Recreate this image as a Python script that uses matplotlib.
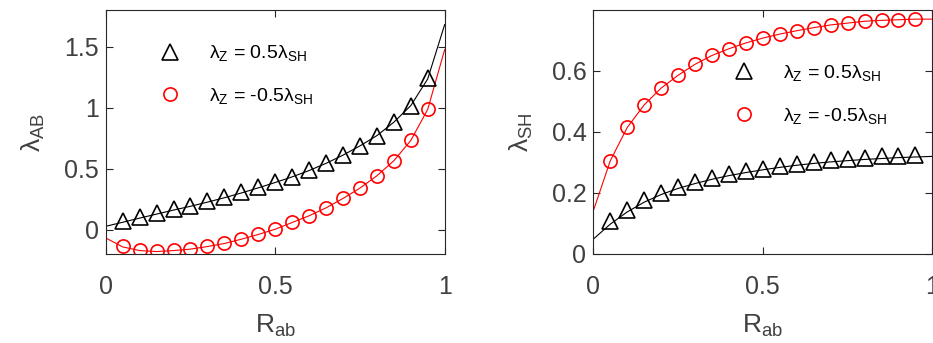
import numpy as np
import matplotlib
matplotlib.use("Agg")
import matplotlib.pyplot as plt
from matplotlib.ticker import FuncFormatter

plt.rcParams['font.family'] = ['Liberation Sans', 'DejaVu Sans']
plt.rcParams['mathtext.fontset'] = 'custom'
plt.rcParams['mathtext.rm'] = 'Liberation Sans'
plt.rcParams['mathtext.it'] = 'Liberation Sans:italic'
plt.rcParams['mathtext.default'] = 'regular'

# --- данные ---
r_pts = [0.05, 0.10, 0.15, 0.20, 0.25, 0.30, 0.35, 0.40, 0.45, 0.50,
         0.55, 0.60, 0.65, 0.70, 0.75, 0.80, 0.85, 0.90, 0.95]
r_line = [0.0] + r_pts + [1.0]

ab_pos = [0.074, 0.104, 0.137, 0.170, 0.197, 0.232, 0.268, 0.306, 0.347, 0.390,
          0.434, 0.486, 0.546, 0.612, 0.689, 0.770, 0.880, 1.016, 1.240]
ab_neg = [-0.137, -0.169, -0.178, -0.169, -0.158, -0.137, -0.112, -0.077, -0.038, 0.005,
          0.060, 0.115, 0.180, 0.257, 0.342, 0.443, 0.566, 0.732, 0.989]
ab_pos_line = [0.027, 0.060, 0.094, 0.127, 0.160, 0.191, 0.225, 0.261, 0.300, 0.342, 0.386,
               0.432, 0.484, 0.543, 0.610, 0.686, 0.770, 0.880, 1.016, 1.235, 1.680]
ab_neg_line = [-0.068, -0.142, -0.172, -0.180, -0.172, -0.160, -0.139, -0.114, -0.079, -0.040, 0.003,
               0.058, 0.113, 0.178, 0.255, 0.340, 0.441, 0.564, 0.730, 0.985, 1.475]

sh_pos = [0.107, 0.145, 0.176, 0.200, 0.220, 0.235, 0.248, 0.261, 0.271, 0.280,
          0.289, 0.296, 0.302, 0.307, 0.311, 0.316, 0.320, 0.322, 0.325]
sh_neg = [0.306, 0.415, 0.489, 0.544, 0.586, 0.622, 0.651, 0.673, 0.692, 0.708,
          0.721, 0.732, 0.742, 0.751, 0.757, 0.763, 0.766, 0.768, 0.772]
sh_pos_line = [0.049, 0.098, 0.138, 0.170, 0.195, 0.215, 0.231, 0.245, 0.257, 0.267, 0.276,
               0.284, 0.291, 0.297, 0.302, 0.306, 0.310, 0.313, 0.316, 0.318, 0.320]
sh_neg_line = [0.142, 0.306, 0.415, 0.489, 0.544, 0.586, 0.622, 0.651, 0.673, 0.692, 0.708,
               0.721, 0.732, 0.742, 0.751, 0.757, 0.763, 0.766, 0.768, 0.770, 0.770]

lab_pos = r'$\lambda_{Z}$ = 0.5$\lambda_{SH}$'
lab_neg = r'$\lambda_{Z}$ = -0.5$\lambda_{SH}$'

axis_col = '#262626'
tick_col = '#404040'

fig = plt.figure(figsize=(9.33, 3.43), dpi=100)
ax1 = fig.add_axes([0.1133, 0.2595, 0.3633, 0.7114])
ax2 = fig.add_axes([0.636, 0.2595, 0.3633, 0.7114])

fmt = FuncFormatter(lambda v, p: '%g' % v)


def style(ax):
    for s in ax.spines.values():
        s.set_color(axis_col)
        s.set_linewidth(0.8)
    ax.tick_params(direction='in', top=True, right=True, length=5, width=0.8,
                   colors=axis_col, labelcolor=tick_col, labelsize=18)
    ax.tick_params(axis='x', pad=15)
    ax.tick_params(axis='y', pad=5)
    ax.xaxis.set_major_formatter(fmt)
    ax.yaxis.set_major_formatter(fmt)
    ax.set_xlim(0, 1)
    ax.set_xticks([0, 0.5, 1])
    ax.set_xlabel(r'$R_{ab}$', fontsize=19, color=tick_col, labelpad=10)


# --- (1) λ_AB ---
ax1.plot(r_line, ab_pos_line, color='black', lw=0.8)
ax1.plot(r_line, ab_neg_line, color='red', lw=0.8)
ax1.plot(r_pts, ab_pos, '^', ms=11, mfc='none', mec='black', mew=1.2, label=lab_pos)
ax1.plot(r_pts, ab_neg, 'o', ms=9.5, mfc='none', mec='red', mew=1.2, label=lab_neg)
style(ax1)
ax1.set_ylim(-0.2, 1.8)
ax1.set_yticks([0, 0.5, 1, 1.5])
ax1.set_ylabel(r'$\lambda_{AB}$', fontsize=19, color=tick_col, labelpad=12)
ax1.legend(loc='upper left', bbox_to_anchor=(0.08, 0.935), frameon=False, fontsize=14,
           handletextpad=1.0, labelspacing=1.17)

# --- (2) λ_SH ---
ax2.plot(r_line, sh_pos_line, color='black', lw=0.8)
ax2.plot(r_line, sh_neg_line, color='red', lw=0.8)
ax2.plot(r_pts, sh_pos, '^', ms=11, mfc='none', mec='black', mew=1.2, label=lab_pos)
ax2.plot(r_pts, sh_neg, 'o', ms=9.5, mfc='none', mec='red', mew=1.2, label=lab_neg)
style(ax2)
ax2.set_ylim(0, 0.8)
ax2.set_yticks([0, 0.2, 0.4, 0.6])
ax2.set_ylabel(r'$\lambda_{SH}$', fontsize=19, color=tick_col, labelpad=12)
ax2.legend(loc='upper left', bbox_to_anchor=(0.335, 0.855), frameon=False, fontsize=14,
           handletextpad=1.0, labelspacing=1.17)

fig.savefig("out.png", dpi=100)
